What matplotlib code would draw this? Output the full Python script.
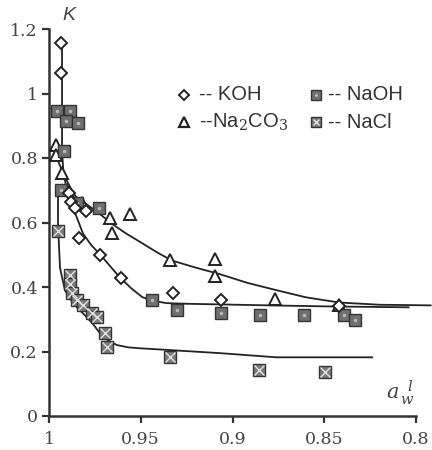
import matplotlib
matplotlib.use("Agg")
import matplotlib.pyplot as plt

# ---------------- data ----------------
koh_a = [0.9935, 0.9935, 0.9890, 0.9880, 0.9860, 0.9800, 0.9837, 0.9720, 0.9610, 0.9326, 0.9060, 0.8420]
koh_k = [1.156, 1.063, 0.690, 0.665, 0.645, 0.635, 0.553, 0.500, 0.427, 0.380, 0.359, 0.340]

naoh_a = [0.9957, 0.9886, 0.9908, 0.9842, 0.9918, 0.9935, 0.9850, 0.9730,
          0.9440, 0.9300, 0.9060, 0.8850, 0.8610, 0.8390, 0.8330]
naoh_k = [0.946, 0.946, 0.915, 0.909, 0.822, 0.700, 0.660, 0.646,
          0.359, 0.328, 0.320, 0.312, 0.312, 0.312, 0.297]

na2co3_a = [0.9962, 0.9962, 0.9929, 0.9900, 0.9820, 0.9668, 0.9560, 0.9658,
            0.9340, 0.9098, 0.9098, 0.8770, 0.8420]
na2co3_k = [0.840, 0.810, 0.755, 0.700, 0.660, 0.615, 0.627, 0.566,
            0.485, 0.488, 0.435, 0.364, 0.343]

nacl_a = [0.9951, 0.9886, 0.9886, 0.9875, 0.9848, 0.9815, 0.9766, 0.9739,
          0.9696, 0.9685, 0.9342, 0.8853, 0.8495]
nacl_k = [0.575, 0.436, 0.410, 0.380, 0.360, 0.343, 0.320, 0.306,
          0.256, 0.213, 0.182, 0.142, 0.136]

# fitted curves
fit_koh_a = [0.9929, 0.9929, 0.9922, 0.9905, 0.9880, 0.9848, 0.9815, 0.9770, 0.9720,
             0.9660, 0.9610, 0.9550, 0.9490, 0.9420, 0.9360, 0.9250, 0.9070, 0.8800, 0.8500, 0.8040]
fit_koh_k = [1.160, 0.820, 0.760, 0.705, 0.660, 0.615, 0.566, 0.530, 0.500,
             0.460, 0.427, 0.395, 0.368, 0.356, 0.350, 0.348, 0.346, 0.343, 0.340, 0.337]

fit_na2co3_a = [0.9967, 0.9950, 0.9913, 0.9880, 0.9853, 0.9780, 0.9720, 0.9660, 0.9580,
                0.9490, 0.9410, 0.9330, 0.9200, 0.9070, 0.8920, 0.8760, 0.8600, 0.8420, 0.8200, 0.7920]
fit_na2co3_k = [0.830, 0.790, 0.740, 0.705, 0.680, 0.650, 0.625, 0.597, 0.566,
                0.535, 0.507, 0.482, 0.460, 0.440, 0.413, 0.390, 0.368, 0.352, 0.345, 0.343]

fit_nacl_a = [0.9951, 0.9951, 0.9945, 0.9940, 0.9925, 0.9913, 0.9880, 0.9848, 0.9800,
              0.9760, 0.9723, 0.9680, 0.9630, 0.9570, 0.9505, 0.9300, 0.9071, 0.8761, 0.8239]
fit_nacl_k = [0.714, 0.600, 0.520, 0.460, 0.420, 0.390, 0.360, 0.337, 0.310,
              0.285, 0.257, 0.235, 0.220, 0.213, 0.210, 0.203, 0.195, 0.182, 0.182]

y_ticks = [0, 0.2, 0.4, 0.6, 0.8, 1.0, 1.2]
y_labels = ["0", "0.2", "0.4", "0.6", "0.8", "1", "1.2"]
x_ticks = [1.0, 0.95, 0.9, 0.85, 0.8]
x_labels = ["1", "0.95", "0.9", "0.85", "0.8"]

# ---------------- figure ----------------
plt.rcParams['mathtext.fontset'] = 'dejavuserif'
fig = plt.figure(figsize=(4.32, 4.5), dpi=100)
ax = fig.add_axes([49/432, 34/450, 367/432, 387/450])

line_kw = dict(color="#222222", lw=1.3, zorder=2)
ax.plot(fit_koh_a, fit_koh_k, **line_kw)
ax.plot(fit_na2co3_a, fit_na2co3_k, clip_on=False, **line_kw)
ax.plot(fit_nacl_a, fit_nacl_k, **line_kw)

ax.plot(na2co3_a, na2co3_k, ls="none", marker="^", ms=8, mfc="white", mec="#222222", mew=1.4, zorder=3)
ax.plot(naoh_a, naoh_k, ls="none", marker="s", ms=8, mfc="#6f6f6f", mec="#333333", mew=1.0, zorder=4)
ax.plot(naoh_a, naoh_k, ls="none", marker="o", ms=2.5, mfc="#bbbbbb", mec="none", zorder=5)
ax.plot(nacl_a, nacl_k, ls="none", marker="s", ms=8.5, mfc="#7a7a7a", mec="#333333", mew=1.0, zorder=4)
ax.plot(nacl_a, nacl_k, ls="none", marker="x", ms=6.5, mec="#e0e0e0", mew=1.0, zorder=5)
ax.plot(koh_a, koh_k, ls="none", marker="D", ms=6, mfc="white", mec="#222222", mew=1.4, zorder=6)

ax.set_xlim(1.0, 0.8)
ax.set_ylim(0, 1.2)
ax.set_xticks(x_ticks)
ax.set_xticklabels(x_labels)
ax.set_yticks(y_ticks)
ax.set_yticklabels(y_labels)
for s in ["top", "right"]:
    ax.spines[s].set_visible(False)
for s in ["left", "bottom"]:
    ax.spines[s].set_linewidth(1.8)
    ax.spines[s].set_color("#333333")
ax.tick_params(direction="out", length=5, width=1.6, color="#333333",
               labelsize=12.5, labelcolor="#444444")
ax.tick_params(axis="x", pad=6)
ax.tick_params(axis="y", pad=3)
for lab in ax.get_xticklabels() + ax.get_yticklabels():
    lab.set_family("DejaVu Serif")

fig.text(69/432, 1 - 15/450, "K", fontsize=14, style="italic", family="Liberation Sans",
         color="#444444", ha="center", va="center")
fig.text(400/432, 1 - 393/450, r"$a_{\,w}^{\;\;l}$", fontsize=15, color="#444444",
         ha="center", va="center")

# legend (manual)
def fx(px):
    return px / 432
def fy(py):
    return 1 - py / 450

fig.lines.append(plt.Line2D([fx(184)], [fy(95)], marker="D", ms=5, mfc="white", mec="#222222",
                            mew=1.4, transform=fig.transFigure))
fig.lines.append(plt.Line2D([fx(184)], [fy(122)], marker="^", ms=7, mfc="white", mec="#222222",
                            mew=1.6, transform=fig.transFigure))
fig.lines.append(plt.Line2D([fx(316)], [fy(95)], marker="s", ms=7, mfc="#6f6f6f", mec="#333333",
                            mew=1.0, transform=fig.transFigure))
fig.lines.append(plt.Line2D([fx(316)], [fy(95)], marker="o", ms=2.2, mfc="#bbbbbb", mec="none",
                            transform=fig.transFigure))
fig.lines.append(plt.Line2D([fx(316)], [fy(122)], marker="s", ms=7, mfc="#7a7a7a", mec="#333333",
                            mew=1.0, transform=fig.transFigure))
fig.lines.append(plt.Line2D([fx(316)], [fy(122)], marker="x", ms=5, mec="#e0e0e0",
                            mew=1.0, transform=fig.transFigure))

leg_kw = dict(fontsize=14.5, family="Liberation Sans", color="#333333", ha="left", va="center")
fig.text(fx(199), fy(95), "-- KOH", **leg_kw)
fig.text(fx(199), fy(122), r"--Na$_2$CO$_3$", **leg_kw)
fig.text(fx(328), fy(95), "-- NaOH", **leg_kw)
fig.text(fx(328), fy(122), "-- NaCl", **leg_kw)

fig.savefig("out.png", dpi=100)
